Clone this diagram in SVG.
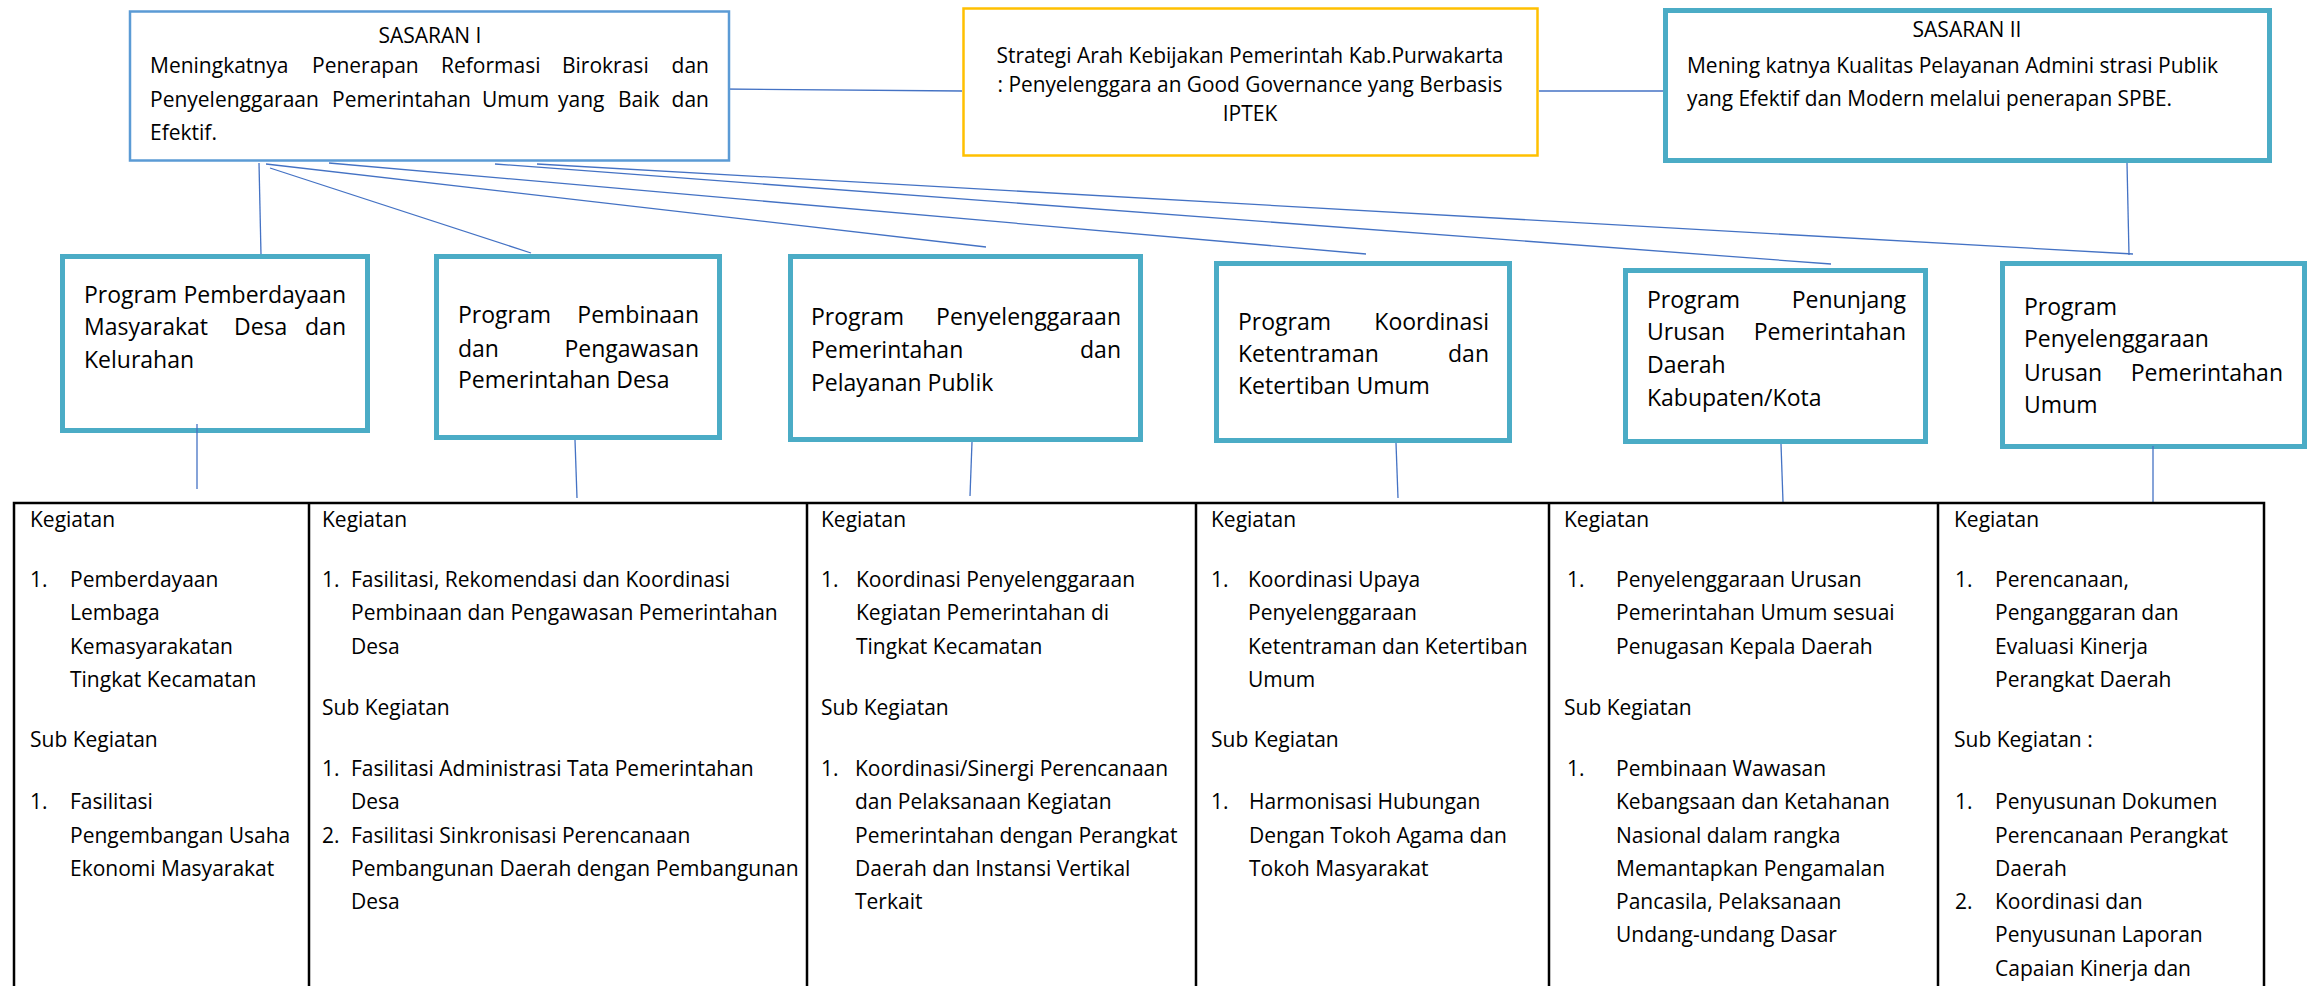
<svg xmlns="http://www.w3.org/2000/svg" width="2309" height="986" viewBox="0 0 2309 986">
<style>
.t{font-family:"Open Sans","Liberation Sans",sans-serif;font-size:21px;fill:#000}
.p{font-size:23px}
.e{text-anchor:end}
.m{text-anchor:middle}
.conn{stroke:#4472C4;stroke-width:1.3;fill:none}
.prog{fill:#fff;stroke:#4BACC6;stroke-width:5}
.grid{stroke:#000;stroke-width:2.5;fill:none}
</style>
<rect x="0" y="0" width="2309" height="986" fill="#fff"/>
<g id="connectors">
<line class="conn" x1="720" y1="89" x2="962" y2="91"/>
<line class="conn" x1="1539" y1="91" x2="1663" y2="91"/>
<line class="conn" x1="259" y1="163" x2="261" y2="255"/>
<line class="conn" x1="270" y1="168" x2="531" y2="253"/>
<line class="conn" x1="266" y1="164" x2="986" y2="247"/>
<line class="conn" x1="329" y1="163" x2="1366" y2="254"/>
<line class="conn" x1="495" y1="164" x2="1831" y2="264"/>
<line class="conn" x1="537" y1="164" x2="2133" y2="254"/>
<line class="conn" x1="2127" y1="163" x2="2129" y2="255"/>
</g>
<g id="sasaran-1">
<rect x="130" y="11.5" width="599" height="149" fill="#fff" stroke="#5B9BD5" stroke-width="2.5"/>
<text class="t m" x="430" y="43">SASARAN I</text>
<text class="t" x="150" y="73">Meningkatnya</text>
<text class="t" x="312" y="73">Penerapan</text>
<text class="t" x="441" y="73">Reformasi</text>
<text class="t" x="562" y="73">Birokrasi</text>
<text class="t e" x="709" y="73">dan</text>
<text class="t" x="150" y="107">Penyelenggaraan</text>
<text class="t" x="332" y="107">Pemerintahan</text>
<text class="t" x="482" y="107">Umum</text>
<text class="t" x="558" y="107">yang</text>
<text class="t" x="618" y="107">Baik</text>
<text class="t e" x="709" y="107">dan</text>
<text class="t" x="150" y="140">Efektif.</text>
</g>
<g id="strategi">
<rect x="963.5" y="8.5" width="574" height="147" fill="#fff" stroke="#FFC000" stroke-width="2.5"/>
<text class="t m" x="1250" y="63" textLength="507" lengthAdjust="spacingAndGlyphs">Strategi Arah Kebijakan Pemerintah Kab.Purwakarta</text>
<text class="t m" x="1250" y="92" textLength="505" lengthAdjust="spacingAndGlyphs">: Penyelenggara an Good Governance yang Berbasis</text>
<text class="t m" x="1250" y="121">IPTEK</text>
</g>
<g id="sasaran-2">
<rect x="1665.5" y="10.5" width="604" height="150" fill="#fff" stroke="#4BACC6" stroke-width="5"/>
<text class="t m" x="1967" y="37">SASARAN II</text>
<text class="t" x="1687" y="73" textLength="531" lengthAdjust="spacingAndGlyphs">Mening katnya Kualitas Pelayanan Admini strasi Publik</text>
<text class="t" x="1687" y="106" textLength="485" lengthAdjust="spacingAndGlyphs">yang Efektif dan Modern melalui penerapan SPBE.</text>
</g>
<g id="program-1">
<rect class="prog" x="62.5" y="256.5" width="305" height="174"/>
<text class="t p" x="84" y="303">Program</text>
<text class="t p e" x="346" y="303">Pemberdayaan</text>
<text class="t p" x="84" y="335">Masyarakat</text>
<text class="t p" x="234" y="335">Desa</text>
<text class="t p e" x="346" y="335">dan</text>
<text class="t p" x="84" y="368">Kelurahan</text>
</g>
<g id="program-2">
<rect class="prog" x="436.5" y="256.5" width="283" height="181"/>
<text class="t p" x="458" y="323">Program</text>
<text class="t p e" x="699" y="323">Pembinaan</text>
<text class="t p" x="458" y="357">dan</text>
<text class="t p e" x="699" y="357">Pengawasan</text>
<text class="t p" x="458" y="388">Pemerintahan Desa</text>
</g>
<g id="program-3">
<rect class="prog" x="790.5" y="256.5" width="350" height="183"/>
<text class="t p" x="811" y="325">Program</text>
<text class="t p e" x="1121" y="325">Penyelenggaraan</text>
<text class="t p" x="811" y="358">Pemerintahan</text>
<text class="t p e" x="1121" y="358">dan</text>
<text class="t p" x="811" y="391">Pelayanan Publik</text>
</g>
<g id="program-4">
<rect class="prog" x="1216.5" y="263.5" width="293" height="177"/>
<text class="t p" x="1238" y="330">Program</text>
<text class="t p e" x="1489" y="330">Koordinasi</text>
<text class="t p" x="1238" y="362">Ketentraman</text>
<text class="t p e" x="1489" y="362">dan</text>
<text class="t p" x="1238" y="394">Ketertiban Umum</text>
</g>
<g id="program-5">
<rect class="prog" x="1625.5" y="270.5" width="300" height="171"/>
<text class="t p" x="1647" y="308">Program</text>
<text class="t p e" x="1906" y="308">Penunjang</text>
<text class="t p" x="1647" y="340">Urusan</text>
<text class="t p e" x="1906" y="340">Pemerintahan</text>
<text class="t p" x="1647" y="373">Daerah</text>
<text class="t p" x="1647" y="406">Kabupaten/Kota</text>
</g>
<g id="program-6">
<rect class="prog" x="2002.5" y="263.5" width="302" height="183"/>
<text class="t p" x="2024" y="315">Program</text>
<text class="t p" x="2024" y="347">Penyelenggaraan</text>
<text class="t p" x="2024" y="381">Urusan</text>
<text class="t p e" x="2283" y="381">Pemerintahan</text>
<text class="t p" x="2024" y="413">Umum</text>
</g>
<g id="program-links" class="connectors">
<line class="conn" x1="197" y1="424" x2="197" y2="489"/>
<line class="conn" x1="575" y1="440" x2="577" y2="498"/>
<line class="conn" x1="972" y1="442" x2="970" y2="496"/>
<line class="conn" x1="1396" y1="443" x2="1398" y2="498"/>
<line class="conn" x1="1781" y1="444" x2="1783" y2="502"/>
<line class="conn" x1="2153" y1="446" x2="2153" y2="503"/>
</g>
<g id="kegiatan-table">
<rect class="grid" x="14" y="503" width="2250" height="520"/>
<line class="grid" x1="309" y1="503" x2="309" y2="990"/>
<line class="grid" x1="807" y1="503" x2="807" y2="990"/>
<line class="grid" x1="1196" y1="503" x2="1196" y2="990"/>
<line class="grid" x1="1549" y1="503" x2="1549" y2="990"/>
<line class="grid" x1="1938" y1="503" x2="1938" y2="990"/>
</g>
<g id="kegiatan-1">
<text class="t" x="30" y="527">Kegiatan</text>
<text class="t" x="30" y="587">1.</text>
<text class="t" x="70" y="587">Pemberdayaan</text>
<text class="t" x="70" y="620">Lembaga</text>
<text class="t" x="70" y="654">Kemasyarakatan</text>
<text class="t" x="70" y="687">Tingkat Kecamatan</text>
<text class="t" x="30" y="747">Sub Kegiatan</text>
<text class="t" x="30" y="809">1.</text>
<text class="t" x="70" y="809">Fasilitasi</text>
<text class="t" x="70" y="843">Pengembangan Usaha</text>
<text class="t" x="70" y="876">Ekonomi Masyarakat</text>
</g>
<g id="kegiatan-2">
<text class="t" x="322" y="527">Kegiatan</text>
<text class="t" x="322" y="587">1.</text>
<text class="t" x="351" y="587">Fasilitasi, Rekomendasi dan Koordinasi</text>
<text class="t" x="351" y="620">Pembinaan dan Pengawasan Pemerintahan</text>
<text class="t" x="351" y="654">Desa</text>
<text class="t" x="322" y="715">Sub Kegiatan</text>
<text class="t" x="322" y="776">1.</text>
<text class="t" x="351" y="776">Fasilitasi Administrasi Tata Pemerintahan</text>
<text class="t" x="351" y="809">Desa</text>
<text class="t" x="322" y="843">2.</text>
<text class="t" x="351" y="843">Fasilitasi Sinkronisasi Perencanaan</text>
<text class="t" x="351" y="876">Pembangunan Daerah dengan Pembangunan</text>
<text class="t" x="351" y="909">Desa</text>
</g>
<g id="kegiatan-3">
<text class="t" x="821" y="527">Kegiatan</text>
<text class="t" x="821" y="587">1.</text>
<text class="t" x="856" y="587">Koordinasi Penyelenggaraan</text>
<text class="t" x="856" y="620">Kegiatan Pemerintahan di</text>
<text class="t" x="856" y="654">Tingkat Kecamatan</text>
<text class="t" x="821" y="715">Sub Kegiatan</text>
<text class="t" x="821" y="776">1.</text>
<text class="t" x="855" y="776">Koordinasi/Sinergi Perencanaan</text>
<text class="t" x="855" y="809">dan Pelaksanaan Kegiatan</text>
<text class="t" x="855" y="843">Pemerintahan dengan Perangkat</text>
<text class="t" x="855" y="876">Daerah dan Instansi Vertikal</text>
<text class="t" x="855" y="909">Terkait</text>
</g>
<g id="kegiatan-4">
<text class="t" x="1211" y="527">Kegiatan</text>
<text class="t" x="1211" y="587">1.</text>
<text class="t" x="1248" y="587">Koordinasi Upaya</text>
<text class="t" x="1248" y="620">Penyelenggaraan</text>
<text class="t" x="1248" y="654">Ketentraman dan Ketertiban</text>
<text class="t" x="1248" y="687">Umum</text>
<text class="t" x="1211" y="747">Sub Kegiatan</text>
<text class="t" x="1211" y="809">1.</text>
<text class="t" x="1249" y="809">Harmonisasi Hubungan</text>
<text class="t" x="1249" y="843">Dengan Tokoh Agama dan</text>
<text class="t" x="1249" y="876">Tokoh Masyarakat</text>
</g>
<g id="kegiatan-5">
<text class="t" x="1564" y="527">Kegiatan</text>
<text class="t" x="1567" y="587">1.</text>
<text class="t" x="1616" y="587">Penyelenggaraan Urusan</text>
<text class="t" x="1616" y="620">Pemerintahan Umum sesuai</text>
<text class="t" x="1616" y="654">Penugasan Kepala Daerah</text>
<text class="t" x="1564" y="715">Sub Kegiatan</text>
<text class="t" x="1567" y="776">1.</text>
<text class="t" x="1616" y="776">Pembinaan Wawasan</text>
<text class="t" x="1616" y="809">Kebangsaan dan Ketahanan</text>
<text class="t" x="1616" y="843">Nasional dalam rangka</text>
<text class="t" x="1616" y="876">Memantapkan Pengamalan</text>
<text class="t" x="1616" y="909">Pancasila, Pelaksanaan</text>
<text class="t" x="1616" y="942">Undang-undang Dasar</text>
</g>
<g id="kegiatan-6">
<text class="t" x="1954" y="527">Kegiatan</text>
<text class="t" x="1955" y="587">1.</text>
<text class="t" x="1995" y="587">Perencanaan,</text>
<text class="t" x="1995" y="620">Penganggaran dan</text>
<text class="t" x="1995" y="654">Evaluasi Kinerja</text>
<text class="t" x="1995" y="687">Perangkat Daerah</text>
<text class="t" x="1954" y="747">Sub Kegiatan :</text>
<text class="t" x="1955" y="809">1.</text>
<text class="t" x="1995" y="809">Penyusunan Dokumen</text>
<text class="t" x="1995" y="843">Perencanaan Perangkat</text>
<text class="t" x="1995" y="876">Daerah</text>
<text class="t" x="1955" y="909">2.</text>
<text class="t" x="1995" y="909">Koordinasi dan</text>
<text class="t" x="1995" y="942">Penyusunan Laporan</text>
<text class="t" x="1995" y="976">Capaian Kinerja dan</text>
</g>
</svg>
